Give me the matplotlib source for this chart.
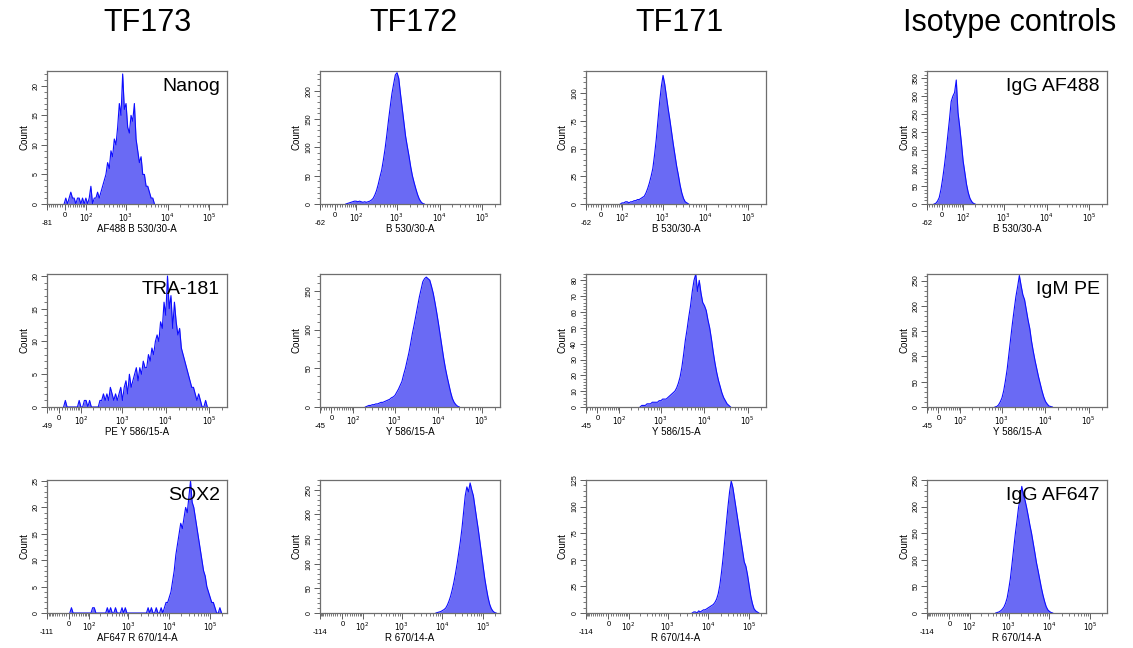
import numpy as np
import matplotlib
matplotlib.use("Agg")
import matplotlib.pyplot as plt
from matplotlib.ticker import FixedLocator, FixedFormatter, MultipleLocator, AutoMinorLocator

plt.rcParams['font.family'] = ['Liberation Sans', 'DejaVu Sans']

# biexponential display: channel grid in display units (about one unit per decade)
WIDTH_BASIS = 70.0
CH_ORIGIN = -0.6
CH_WIDTH = 0.04
X_TOP = 262144

column_titles = ["TF173", "TF172", "TF171", "Isotype controls"]
panel_names = [["Nanog", "", "", "IgG AF488"],
               ["TRA-181", "", "", "IgM PE"],
               ["SOX2", "", "", "IgG AF647"]]
x_labels = [["AF488 B 530/30-A", "B 530/30-A", "B 530/30-A", "B 530/30-A"],
            ["PE Y 586/15-A", "Y 586/15-A", "Y 586/15-A", "Y 586/15-A"],
            ["AF647 R 670/14-A", "R 670/14-A", "R 670/14-A", "R 670/14-A"]]
x_minimum = [[-81, -62, -62, -62],
             [-49, -45, -45, -45],
             [-111, -114, -114, -114]]
y_maximum = [[22.5, 235, 120, 370],
             [20.3, 172, 84, 263],
             [25.2, 270, 125, 250]]
y_step = [[5, 50, 25, 50],
          [5, 50, 10, 50],
          [5, 50, 25, 50]]

# counts per channel, starting at the given first channel
nanog = [1, 0, 1, 2, 1, 1, 0, 1, 1, 0, 1, 0, 1, 0, 1, 3, 0, 1, 1, 2, 1, 2, 3, 4, 5, 7, 6, 9, 8, 11,
         10, 13, 17, 15, 22, 16, 17, 13, 12, 15, 14, 17, 11, 9, 7, 8, 5, 5, 3, 3, 2, 1, 1]
tf172_b530 = [1, 2, 3, 4, 5, 5, 4, 5, 4, 3, 4, 3, 4, 5, 7, 10, 16, 24, 35, 48, 60, 78, 98, 122, 148,
              172, 195, 212, 228, 232, 222, 195, 170, 145, 120, 102, 85, 66, 50, 38, 27, 17, 9, 4, 1]
tf171_b530 = [1, 1, 2, 2, 1, 2, 2, 3, 3, 4, 4, 5, 6, 7, 10, 14, 19, 25, 32, 44, 58, 75, 92, 106, 116,
              108, 97, 86, 76, 65, 54, 44, 34, 26, 17, 10, 5, 2, 1]
igg_af488 = [2, 8, 18, 40, 70, 105, 145, 190, 235, 285, 300, 310, 345, 255, 215, 170, 120, 88, 55,
             32, 16, 7, 2]

tra181 = [1, 0, 0, 0, 0, 0, 0, 0, 1, 0, 0, 1, 1, 0, 1, 0, 0, 0, 0, 0, 1, 1, 2, 1, 2, 1, 3, 2, 1, 2,
          1, 2, 3, 1, 3, 4, 2, 5, 3, 4, 5, 6, 4, 6, 5, 7, 6, 6, 8, 7, 9, 8, 10, 11, 10, 13, 12, 16, 14,
          20, 15, 17, 12, 16, 13, 11, 12, 9, 8, 7, 6, 5, 4, 3, 3, 2, 1, 2, 1, 0, 0, 1]
tf172_y586 = [1, 2, 2, 3, 3, 4, 4, 5, 6, 6, 7, 8, 9, 10, 12, 13, 15, 19, 23, 28, 33, 42, 50, 60, 70,
              82, 95, 106, 118, 130, 142, 152, 162, 166, 168, 166, 164, 156, 147, 135, 122, 108, 93,
              78, 63, 50, 39, 29, 19, 11, 6, 3, 1]
tf171_y586 = [1, 1, 1, 2, 2, 2, 3, 3, 3, 3, 4, 4, 5, 5, 5, 6, 7, 8, 9, 10, 12, 15, 19, 25, 33, 42, 49,
              57, 64, 73, 80, 84, 73, 80, 72, 66, 64, 61, 55, 50, 43, 35, 28, 22, 17, 13, 9, 6, 4, 2, 1]
igm_pe = [1, 4, 10, 18, 32, 52, 75, 105, 135, 165, 192, 218, 238, 260, 240, 222, 212, 192, 172, 155,
          130, 110, 92, 76, 60, 46, 32, 20, 11, 6, 2, 1]

sox2 = [1, 0, 0, 0, 0, 0, 0, 0, 0, 0, 0, 0, 0, 1, 1, 0, 0, 0, 0, 0, 0, 0, 1, 0, 1, 0, 0, 1, 0, 0, 0,
        1, 0, 1, 0, 0, 0, 0, 0, 0, 0, 0, 0, 0, 0, 0, 0, 1, 0, 1, 0, 0, 1, 0, 0, 1, 0, 1, 2, 2, 3, 4,
        6, 8, 11, 13, 15, 17, 16, 18, 20, 19, 22, 25, 21, 20, 18, 16, 14, 12, 10, 8, 7, 5, 4, 3, 2,
        2, 1, 0, 0, 1]
tf172_r670 = [1, 2, 3, 5, 7, 10, 16, 24, 34, 47, 62, 80, 100, 122, 145, 172, 205, 238, 256, 246, 264,
              250, 238, 215, 192, 170, 145, 120, 95, 70, 50, 32, 18, 9, 4, 1]
tf171_r670 = [1, 1, 0, 2, 1, 2, 3, 3, 4, 5, 6, 7, 8, 10, 13, 18, 26, 38, 52, 68, 84, 100, 114, 124,
              118, 108, 98, 88, 78, 68, 58, 48, 44, 36, 26, 16, 9, 4, 2, 1]
igg_af647 = [1, 2, 4, 7, 11, 18, 28, 45, 65, 92, 120, 148, 172, 198, 215, 238, 222, 212, 198, 182,
             165, 150, 132, 114, 95, 80, 64, 48, 34, 22, 12, 6, 3, 1]

histograms = [[nanog, tf172_b530, tf171_b530, igg_af488],
              [tra181, tf172_y586, tf171_y586, igm_pe],
              [sox2, tf172_r670, tf171_r670, igg_af647]]
first_channel = [[15, 22, 27, 11],
                 [18, 35, 40, 48],
                 [16, 73, 67, 44]]


def fwd(x):
    return np.arcsinh(np.asarray(x, dtype=float) / WIDTH_BASIS) / np.log(10)


def inv(t):
    return WIDTH_BASIS * np.sinh(np.asarray(t, dtype=float) * np.log(10))


FILL = '#6a6af4'
EDGE = '#0d0dff'
FRAME = '#6e6e6e'

W, H = 1133, 648
fig = plt.figure(figsize=(W / 100, H / 100), dpi=100)

col_left = [47, 320, 586, 927]
row_top = [71, 274, 480]
ax_w, ax_h = 180, 133
title_x = [148, 413, 680, 1010]

for c, title in enumerate(column_titles):
    fig.text(title_x[c] / W, 1 - 23 / H, title, fontsize=22, ha='center', va='center')

for r in range(3):
    for c in range(4):
        ax = fig.add_axes([col_left[c] / W, 1 - (row_top[r] + ax_h) / H, ax_w / W, ax_h / H])
        ax.set_xscale('function', functions=(fwd, inv))
        neg = x_minimum[r][c]
        ax.set_xlim(neg, X_TOP)
        ax.set_ylim(0, y_maximum[r][c])

        counts = np.array(histograms[r][c], dtype=float)
        k0 = first_channel[r][c]
        n = len(counts)
        # outline runs through channel centres, closed to zero at both ends
        t_mid = CH_ORIGIN + CH_WIDTH * (np.arange(k0, k0 + n) + 0.5)
        t_line = np.concatenate([[t_mid[0] - CH_WIDTH], t_mid, [t_mid[-1] + CH_WIDTH]])
        y_line = np.concatenate([[0], counts, [0]])
        x_line = inv(t_line)
        ax.fill_between(x_line, y_line, 0, color=FILL, lw=0)
        ax.plot(x_line, y_line, color=EDGE, lw=0.8, solid_joinstyle='round')

        # x ticks
        major = [neg, 0, 100, 1e3, 1e4, 1e5]
        labels = ['\n' + str(neg), '0', '$10^2$', '$10^3$', '$10^4$', '$10^5$']
        ax.xaxis.set_major_locator(FixedLocator(major))
        ax.xaxis.set_major_formatter(FixedFormatter(labels))
        minor = [v for v in range(-10, neg, -10)]
        minor += list(range(10, 100, 10))
        for dec in (100, 1000, 10000, 100000):
            minor += [m * dec for m in range(2, 10) if m * dec < X_TOP]
        ax.xaxis.set_minor_locator(FixedLocator(minor))

        ax.yaxis.set_major_locator(MultipleLocator(y_step[r][c]))
        ax.yaxis.set_minor_locator(AutoMinorLocator(5))

        ax.tick_params(axis='both', which='major', direction='out', length=4, width=0.6,
                       color='#444444', labelsize=5.5, pad=1.5)
        ax.tick_params(axis='both', which='minor', direction='out', length=2, width=0.5,
                       color='#444444')
        ax.tick_params(axis='y', labelrotation=90, labelsize=5)
        for lab in ax.get_yticklabels():
            lab.set_va('center')

        for sp in ax.spines.values():
            sp.set_color(FRAME)
            sp.set_linewidth(0.9)

        ax.set_xlabel(x_labels[r][c], fontsize=7)
        ax.xaxis.set_label_coords(0.5, -0.15)
        ax.set_ylabel('Count', fontsize=7)
        ax.yaxis.set_label_coords(-0.10, 0.5)

        if panel_names[r][c]:
            ax.text(0.96, 0.95, panel_names[r][c], transform=ax.transAxes,
                    ha='right', va='top', fontsize=14)

fig.savefig('out.png', dpi=100)
